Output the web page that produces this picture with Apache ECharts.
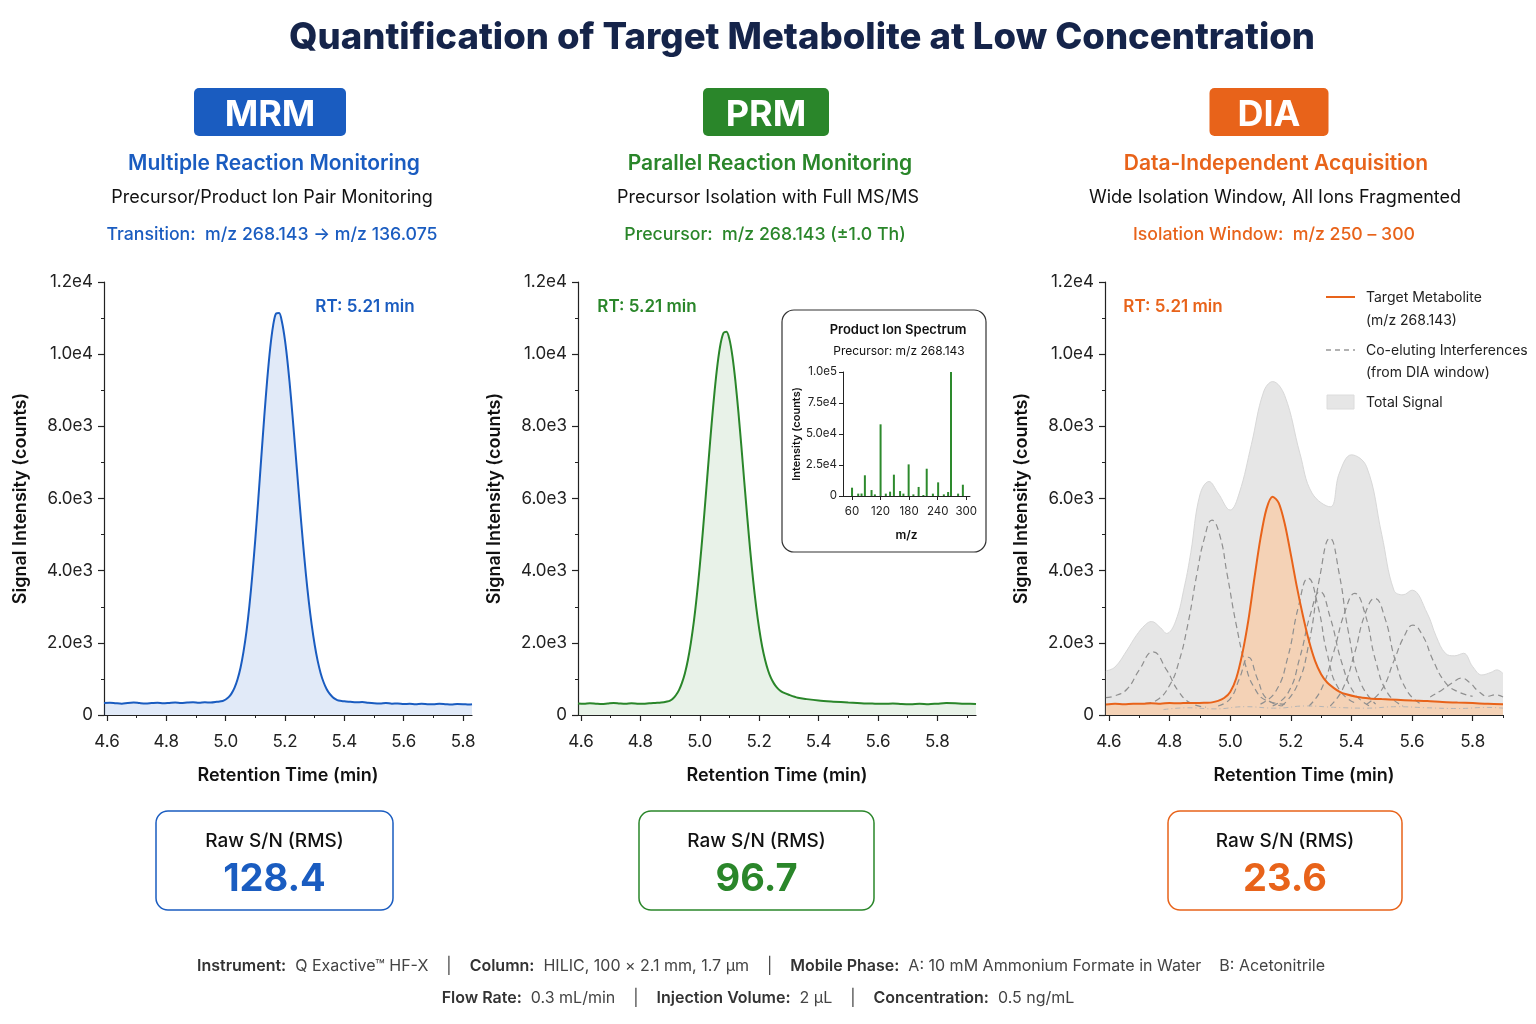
<!DOCTYPE html>
<html>
<head>
<meta charset="utf-8">
<title>Quantification of Target Metabolite at Low Concentration</title>
<script src="https://cdn.jsdelivr.net/npm/echarts@6.0.0/dist/echarts.min.js"></script>
<style>
html, body { margin: 0; padding: 0; background: #fff; }
#main { width: 1536px; height: 1024px; }
</style>
</head>
<body>
<div id="main"></div>
<script>
// ---------- data ----------
var rtTicks = [4.6, 4.8, 5.0, 5.2, 5.4, 5.6, 5.8];
var rtTickLabels = ['4.6', '4.8', '5.0', '5.2', '5.4', '5.6', '5.8'];
var rtMinorTicks = [4.7, 4.9, 5.1, 5.3, 5.5, 5.7, 5.9];
var intensityTickLabels = ['0', '2.0e3', '4.0e3', '6.0e3', '8.0e3', '1.0e4', '1.2e4'];

// MRM chromatogram
var mrmTime = [4.59, 4.61, 4.63, 4.65, 4.67, 4.69, 4.71, 4.73, 4.75, 4.77, 4.79, 4.81, 4.83, 4.85, 4.87, 4.89, 4.91, 4.93, 4.95, 4.97,
  4.99, 5.00, 5.01, 5.02, 5.03, 5.04, 5.05, 5.06, 5.07, 5.08, 5.09, 5.10, 5.11, 5.12, 5.13, 5.14, 5.15, 5.16, 5.17, 5.18,
  5.19, 5.20, 5.21, 5.22, 5.23, 5.24, 5.25, 5.26, 5.27, 5.28, 5.29, 5.30, 5.31, 5.32, 5.33, 5.34, 5.35, 5.36, 5.37, 5.38,
  5.40, 5.42, 5.44, 5.46, 5.48, 5.50, 5.52, 5.54, 5.56, 5.58, 5.60, 5.62, 5.64, 5.66, 5.68, 5.70, 5.72, 5.74, 5.76, 5.78, 5.80, 5.82, 5.83];
var mrmSignal = [330, 340, 325, 315, 335, 345, 330, 320, 330, 340, 325, 335, 345, 330, 345, 355, 340, 350, 345, 365,
  390, 430, 495, 600, 756, 990, 1310, 1750, 2310, 3030, 3900, 4890, 5990, 7140, 8265, 9300, 10170, 10800, 11128, 11138,
  10877, 10373, 9663, 8796, 7820, 6800, 5783, 4818, 3929, 3150, 2490, 1940, 1500, 1160, 907, 720, 590, 500, 440, 400,
  380, 365, 350, 360, 340, 325, 320, 330, 315, 320, 305, 310, 300, 310, 300, 295, 310, 300, 290, 305, 300, 290, 300];

// PRM chromatogram
var prmTime = [4.59, 4.61, 4.63, 4.65, 4.67, 4.69, 4.71, 4.73, 4.75, 4.77, 4.79, 4.81, 4.83, 4.85, 4.87, 4.89, 4.90, 4.91, 4.92,
  4.93, 4.94, 4.95, 4.96, 4.97, 4.98, 4.99, 5.00, 5.01, 5.02, 5.03, 5.04, 5.05, 5.06, 5.07, 5.08, 5.09, 5.10, 5.11, 5.12,
  5.13, 5.14, 5.15, 5.16, 5.17, 5.18, 5.19, 5.20, 5.21, 5.22, 5.23, 5.24, 5.25, 5.26, 5.27, 5.28, 5.30, 5.33, 5.36, 5.40,
  5.45, 5.50, 5.53, 5.56, 5.59, 5.62, 5.65, 5.68, 5.71, 5.74, 5.77, 5.80, 5.83, 5.86, 5.89, 5.91, 5.93];
var prmSignal = [320, 310, 325, 315, 305, 320, 335, 320, 310, 325, 315, 310, 325, 335, 345, 375, 400, 460, 555,
  690, 890, 1160, 1525, 2000, 2585, 3300, 4125, 5055, 6060, 7085, 8080, 8985, 9740, 10290, 10590, 10620, 10410, 9940, 9250,
  8400, 7450, 6450, 5470, 4540, 3710, 2990, 2390, 1900, 1525, 1235, 1020, 870, 760, 680, 625, 560, 480, 440, 400,
  370, 345, 335, 320, 315, 310, 320, 305, 300, 310, 300, 315, 330, 325, 310, 315, 305];

// PRM inset: product ion spectrum
var fragMz = [60, 73, 80, 87, 101, 108, 120, 131, 140, 148, 161, 168, 179, 189, 200, 210, 217, 230, 241, 253, 262, 268, 283, 293];
var fragIntensity = [6700, 1900, 2000, 16700, 4800, 1300, 57800, 1900, 3500, 17200, 4000, 1900, 25500, 1300, 7300, 800, 22000, 1900, 11000, 1300, 3200, 100000, 1900, 9100];
var mzTicks = [60, 120, 180, 240, 300];
var fragTickLabels = ['0', '2.5e4', '5.0e4', '7.5e4', '1.0e5'];

// DIA: target metabolite XIC
var diaTime = [4.59, 4.62, 4.65, 4.68, 4.71, 4.74, 4.77, 4.80, 4.83, 4.86, 4.89, 4.92, 4.94, 4.96, 4.98, 5.00, 5.02, 5.04, 5.06,
  5.08, 5.10, 5.12, 5.14, 5.16, 5.18, 5.20, 5.22, 5.24, 5.26, 5.28, 5.30, 5.32, 5.34, 5.36, 5.38, 5.42, 5.46, 5.50, 5.55,
  5.60, 5.65, 5.70, 5.75, 5.80, 5.85, 5.90];
var diaTarget = [290, 310, 300, 315, 310, 325, 315, 330, 325, 335, 330, 340, 350, 390, 470, 640, 1020, 1700, 2630,
  3800, 4900, 5720, 6050, 5880, 5300, 4450, 3550, 2750, 2050, 1500, 1130, 900, 760, 650, 580, 500, 460, 440, 420,
  400, 385, 360, 345, 330, 310, 300];

// DIA: total signal envelope
var totalSignal = [[4.59, 1220], [4.62, 1330], [4.66, 1800], [4.69, 2200], [4.72, 2500], [4.74, 2590], [4.77, 2420], [4.79, 2260],
  [4.82, 2600], [4.85, 3600], [4.87, 4500], [4.90, 6100], [4.93, 6470], [4.96, 6150], [5.00, 5680], [5.03, 6150], [5.07, 7500],
  [5.11, 8950], [5.14, 9240], [5.18, 8850], [5.23, 7250], [5.27, 6150], [5.33, 5770], [5.36, 6700], [5.40, 7210], [5.45, 6880],
  [5.50, 5000], [5.54, 3460], [5.57, 3330], [5.60, 3460], [5.65, 2820], [5.68, 2170], [5.71, 1710], [5.74, 1640], [5.77, 1710],
  [5.80, 1340], [5.83, 1110], [5.86, 1180], [5.88, 1250], [5.90, 1150]];

// DIA: co-eluting interferences (dashed)
var intfA = [[4.59, 480], [4.62, 530], [4.66, 720], [4.70, 1250], [4.745, 1750], [4.79, 1250], [4.83, 650], [4.87, 330], [4.92, 220]];
var intfB = [[4.72, 320], [4.76, 420], [4.80, 820], [4.83, 1450], [4.86, 2500], [4.89, 3900], [4.915, 4900], [4.94, 5400],
  [4.965, 5000], [4.99, 3900], [5.02, 2500], [5.05, 1400], [5.08, 750], [5.12, 400], [5.18, 300]];
var intfC = [[4.96, 250], [5.00, 450], [5.03, 1000], [5.06, 1600], [5.09, 1000], [5.12, 450], [5.17, 250]];
var intfD = [[5.10, 300], [5.15, 650], [5.19, 1600], [5.225, 3000], [5.257, 3790], [5.29, 3000], [5.32, 1700], [5.36, 700], [5.42, 300]];
var intfE = [[5.14, 250], [5.19, 600], [5.23, 1600], [5.265, 2800], [5.296, 3420], [5.33, 2700], [5.37, 1400], [5.41, 600], [5.46, 250]];
var intfF = [[5.17, 250], [5.22, 800], [5.26, 2000], [5.295, 3800], [5.329, 4900], [5.36, 3900], [5.39, 2300], [5.43, 900], [5.48, 300]];
var intfG = [[5.26, 250], [5.30, 700], [5.34, 1700], [5.38, 2900], [5.411, 3370], [5.445, 2800], [5.48, 1500], [5.52, 600], [5.57, 250]];
var intfH = [[5.33, 250], [5.37, 700], [5.41, 1700], [5.445, 2800], [5.477, 3230], [5.51, 2700], [5.545, 1500], [5.585, 650], [5.63, 300]];
var intfI = [[5.45, 300], [5.50, 700], [5.54, 1500], [5.575, 2200], [5.603, 2490], [5.635, 2200], [5.67, 1500], [5.71, 900], [5.75, 650], [5.80, 520]];
var intfJ = [[5.66, 500], [5.70, 700], [5.735, 900], [5.763, 1020], [5.79, 900], [5.82, 650], [5.85, 520], [5.875, 560], [5.90, 500]];
var intfFloor = [[4.78, 150], [4.86, 200], [4.95, 170], [5.05, 230], [5.15, 190], [5.25, 250], [5.35, 210], [5.45, 190], [5.55, 230], [5.65, 200], [5.75, 180], [5.85, 210], [5.90, 190]];

var snValues = ['128.4', '96.7', '23.6'];

// ---------- styling ----------
var FONT = 'Inter, "Noto Sans", sans-serif';
var AXIS_COLOR = '#222';
var BLUE = '#1a5cc0', GREEN = '#2a862a', ORANGE = '#e8631a';
var TEXT_DY = 2; // Inter 的视觉中心略偏上，统一下移

function zip(xs, ys) {
  var out = [];
  for (var i = 0; i < xs.length; i++) out.push([xs[i], ys[i]]);
  return out;
}

//主轴 + 次刻度轴（同一个grid）
function rtAxes(g, min, max) {
  return [{
    type: 'value', gridIndex: g, min: min, max: max, position: 'bottom',
    axisLine: { show: true, onZero: false, lineStyle: { color: AXIS_COLOR, width: 1.2 } },
    axisTick: { show: true, length: 6, customValues: rtTicks, lineStyle: { color: AXIS_COLOR, width: 1.2 } },
    axisLabel: {
      customValues: rtTicks, margin: 18, fontSize: 17, color: AXIS_COLOR, fontFamily: FONT,
      formatter: function (v) { return rtTickLabels[Math.round((v - 4.6) / 0.2)]; }
    },
    splitLine: { show: false },
    name: 'Retention Time (min)', nameLocation: 'middle', nameGap: 52,
    nameTextStyle: { fontSize: 18, fontWeight: 600, color: '#111', fontFamily: FONT }
  }, {
    type: 'value', gridIndex: g, min: min, max: max, position: 'bottom',
    axisLine: { show: false, onZero: false },
    axisTick: { show: true, length: 3, customValues: rtMinorTicks, lineStyle: { color: AXIS_COLOR, width: 1 } },
    axisLabel: { show: false },
    splitLine: { show: false }
  }];
}

function intensityAxis(g) {
  return {
    type: 'value', gridIndex: g, min: 0, max: 12000, interval: 2000,
    axisLine: { show: true, lineStyle: { color: AXIS_COLOR, width: 1.2 } },
    axisTick: { show: true, length: 6, lineStyle: { color: AXIS_COLOR, width: 1.2 } },
    minorTick: { show: true, splitNumber: 2, length: 3, lineStyle: { color: AXIS_COLOR, width: 1 } },
    axisLabel: {
      margin: 11, fontSize: 17, color: AXIS_COLOR, fontFamily: FONT, padding: [4, 0, 0, 0],
      formatter: function (v) { return intensityTickLabels[Math.round(v / 2000)]; }
    },
    splitLine: { show: false },
    name: 'Signal Intensity (counts)', nameLocation: 'middle', nameGap: 74,
    nameTextStyle: { fontSize: 18, fontWeight: 600, color: '#111', fontFamily: FONT }
  };
}

function txt(text, x, y, size, color, weight, align) {
  return {
    type: 'text', x: x, y: y + TEXT_DY, z: 50,
    style: {
      text: text, fill: color, fontSize: size, fontWeight: weight || 'normal', fontFamily: FONT,
      align: align || 'center', verticalAlign: 'middle',
      textAlign: align || 'center', textVerticalAlign: 'middle'
    }
  };
}

function badge(label, cx, w, color) {
  return [{
    type: 'rect', z: 40, shape: { x: cx - w / 2, y: 88, width: w, height: 48, r: 5 }, style: { fill: color }
  }, txt(label, cx, 113, 36, '#fff', 700)];
}

function snBox(x, w, color, value) {
  return [{
    type: 'rect', z: 40, shape: { x: x, y: 811, width: w, height: 99, r: 12 },
    style: { fill: '#fff', stroke: color, lineWidth: 1.5 }
  }, txt('Raw S/N (RMS)', x + w / 2, 839, 19, '#111', 500),
    txt(value, x + w / 2, 878, 38, color, 700)];
}

var graphics = [];
graphics.push(txt('Quantification of Target Metabolite at Low Concentration', 802, 36, 36.5, '#15244a', 800));
// 方法标签
graphics = graphics.concat(badge('MRM', 270, 152, BLUE), badge('PRM', 766, 126, GREEN), badge('DIA', 1269, 119, ORANGE));
graphics.push(
  txt('Multiple Reaction Monitoring', 274, 162, 21, BLUE, 600),
  txt('Precursor/Product Ion Pair Monitoring', 272, 196, 18, '#111', 400),
  txt('Transition:  m/z 268.143 \u2192 m/z 136.075', 272, 233, 17.7, BLUE, 500),
  txt('Parallel Reaction Monitoring', 770, 162, 21, GREEN, 600),
  txt('Precursor Isolation with Full MS/MS', 768, 196, 18, '#111', 400),
  txt('Precursor:  m/z 268.143 (\u00b11.0 Th)', 765, 233, 17.7, GREEN, 500),
  txt('Data-Independent Acquisition', 1276, 162, 21, ORANGE, 600),
  txt('Wide Isolation Window, All Ions Fragmented', 1275, 196, 18, '#111', 400),
  txt('Isolation Window:  m/z 250 \u2013 300', 1274, 233, 17.7, ORANGE, 500)
);
// RT 标注
graphics.push(
  txt('RT: 5.21 min', 365, 305, 17, BLUE, 600),
  txt('RT: 5.21 min', 647, 305, 17, GREEN, 600),
  txt('RT: 5.21 min', 1173, 305, 17, ORANGE, 600)
);
// PRM 内嵌谱图框
graphics.push(
  { type: 'rect', z: 0, shape: { x: 782, y: 310, width: 204, height: 242, r: 12 }, style: { fill: '#fff', stroke: '#333', lineWidth: 1.2 } },
  txt('Product Ion Spectrum', 898, 328, 13, '#111', 600),
  txt('Precursor: m/z 268.143', 899, 349, 12, '#111', 400)
);
// DIA 图例
graphics.push(
  { type: 'line', z: 50, shape: { x1: 1326, y1: 297, x2: 1355, y2: 297 }, style: { stroke: ORANGE, lineWidth: 2 } },
  txt('Target Metabolite', 1366, 296, 14, '#222', 400, 'left'),
  txt('(m/z 268.143)', 1366, 319, 14, '#222', 400, 'left'),
  { type: 'line', z: 50, shape: { x1: 1326, y1: 350, x2: 1355, y2: 350 }, style: { stroke: '#999', lineWidth: 1.3, lineDash: [5, 4] } },
  txt('Co-eluting Interferences', 1366, 349, 14, '#222', 400, 'left'),
  txt('(from DIA window)', 1366, 371, 14, '#222', 400, 'left'),
  { type: 'rect', z: 50, shape: { x: 1327, y: 395, width: 27, height: 14 }, style: { fill: '#e6e6e6', stroke: '#dcdcdc' } },
  txt('Total Signal', 1366, 401, 14, '#222', 400, 'left')
);
graphics = graphics.concat(snBox(156, 237, BLUE, snValues[0]), snBox(639, 235, GREEN, snValues[1]), snBox(1168, 234, ORANGE, snValues[2]));
// 底部仪器参数
var footRich = { b: { fontWeight: 600, fontSize: 16, fill: '#333', fontFamily: FONT } };
graphics.push({
  type: 'text', x: 761, y: 966, z: 50,
  style: {
    text: '{b|Instrument:}  Q Exactive\u2122 HF-X    |    {b|Column:}  HILIC, 100 \u00d7 2.1 mm, 1.7 \u00b5m    |    {b|Mobile Phase:}  A: 10 mM Ammonium Formate in Water    B: Acetonitrile',
    rich: footRich, fill: '#444', fontSize: 16, fontFamily: FONT,
    align: 'center', verticalAlign: 'middle', textAlign: 'center', textVerticalAlign: 'middle'
  }
}, {
  type: 'text', x: 758, y: 998, z: 50,
  style: {
    text: '{b|Flow Rate:}  0.3 mL/min    |    {b|Injection Volume:}  2 \u00b5L    |    {b|Concentration:}  0.5 ng/mL',
    rich: footRich, fill: '#444', fontSize: 16, fontFamily: FONT,
    align: 'center', verticalAlign: 'middle', textAlign: 'center', textVerticalAlign: 'middle'
  }
});

function dashed(data) {
  return {
    type: 'line', xAxisIndex: 4, yAxisIndex: 2, data: data, smooth: 0.5, showSymbol: false, z: 3,
    lineStyle: { color: '#8f8f8f', width: 1.2, type: [6, 4] }
  };
}

var xAxes = [].concat(rtAxes(0, 4.59, 5.83), rtAxes(1, 4.59, 5.93), rtAxes(2, 4.587, 5.9));
xAxes.push({
  type: 'value', gridIndex: 3, min: 41, max: 308,
  axisLine: { show: true, lineStyle: { color: AXIS_COLOR } },
  axisTick: { show: true, length: 4, customValues: mzTicks, lineStyle: { color: AXIS_COLOR } },
  axisLabel: { customValues: mzTicks, margin: 10, fontSize: 11.5, color: AXIS_COLOR, fontFamily: FONT },
  splitLine: { show: false },
  name: 'm/z', nameLocation: 'middle', nameGap: 33,
  nameTextStyle: { fontSize: 12, fontWeight: 600, color: '#111', fontFamily: FONT }
});

var yAxes = [intensityAxis(0), intensityAxis(1), intensityAxis(2), {
  type: 'value', gridIndex: 3, min: 0, max: 100000, interval: 25000,
  axisLine: { show: true, lineStyle: { color: AXIS_COLOR } },
  axisTick: { show: true, length: 4, lineStyle: { color: AXIS_COLOR } },
  axisLabel: {
    margin: 6, fontSize: 11.5, color: AXIS_COLOR, fontFamily: FONT,
    formatter: function (v) { return fragTickLabels[Math.round(v / 25000)]; }
  },
  splitLine: { show: false },
  name: 'Intensity (counts)', nameLocation: 'middle', nameGap: 41,
  nameTextStyle: { fontSize: 11, fontWeight: 600, color: '#111', fontFamily: FONT }
}];

var option = {
  animation: false,
  backgroundColor: '#fff',
  textStyle: { fontFamily: FONT },
  grid: [
    { left: 104, top: 282, width: 368, height: 433, outerBoundsMode: 'none' },
    { left: 578, top: 282, width: 398, height: 433, outerBoundsMode: 'none' },
    { left: 1105, top: 282, width: 398, height: 433, outerBoundsMode: 'none' },
    { left: 843, top: 372, width: 127, height: 124, outerBoundsMode: 'none' }
  ],
  xAxis: xAxes,
  yAxis: yAxes,
  graphic: { elements: graphics },
  series: [
    {
      type: 'line', xAxisIndex: 0, yAxisIndex: 0, data: zip(mrmTime, mrmSignal), smooth: 0.3, showSymbol: false,
      lineStyle: { color: BLUE, width: 2 }, areaStyle: { color: 'rgba(33,100,200,0.19)' }
    },
    {
      type: 'line', xAxisIndex: 2, yAxisIndex: 1, data: zip(prmTime, prmSignal), smooth: 0.3, showSymbol: false,
      lineStyle: { color: GREEN, width: 2 }, areaStyle: { color: 'rgba(40,130,40,0.15)' }
    },
    {
      type: 'bar', xAxisIndex: 6, yAxisIndex: 3, data: zip(fragMz, fragIntensity), barWidth: 2,
      itemStyle: { color: '#2d8a2d' }, z: 5
    },
    // DIA
    {
      type: 'line', xAxisIndex: 4, yAxisIndex: 2, data: totalSignal, smooth: 0.4, showSymbol: false, z: 1,
      lineStyle: { color: '#d8d8d8', width: 1 }, areaStyle: { color: '#e6e6e6', opacity: 1 }
    },
    {
      type: 'line', xAxisIndex: 4, yAxisIndex: 2, data: zip(diaTime, diaTarget), smooth: 0.3, showSymbol: false, z: 2,
      lineStyle: { width: 0, opacity: 0 }, areaStyle: { color: 'rgba(253,196,150,0.85)' }
    },
    dashed(intfA), dashed(intfB), dashed(intfC), dashed(intfD), dashed(intfE),
    dashed(intfF), dashed(intfG), dashed(intfH), dashed(intfI), dashed(intfJ),
    {
      type: 'line', xAxisIndex: 4, yAxisIndex: 2, data: intfFloor, smooth: 0.5, showSymbol: false, z: 3,
      lineStyle: { color: '#b5b5b5', width: 1, type: [5, 3, 1, 3] }
    },
    {
      type: 'line', xAxisIndex: 4, yAxisIndex: 2, data: zip(diaTime, diaTarget), smooth: 0.3, showSymbol: false, z: 4,
      lineStyle: { color: ORANGE, width: 2 }
    }
  ]
};

var chart = echarts.init(document.getElementById('main'));
chart.setOption(option);
</script>
</body>
</html>
